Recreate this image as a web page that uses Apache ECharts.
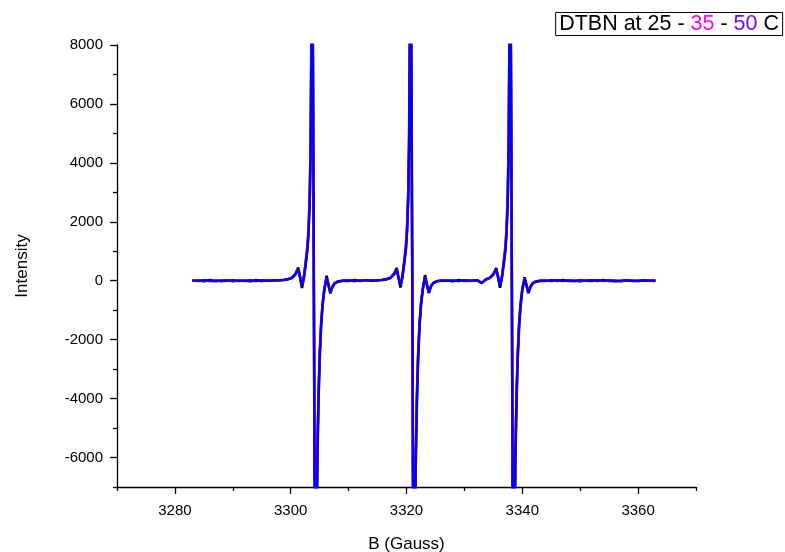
<!DOCTYPE html>
<html>
<head>
<meta charset="utf-8">
<script src="https://cdn.jsdelivr.net/npm/echarts@6/dist/echarts.min.js"></script>
<style>html,body{margin:0;padding:0;background:#fff}#c{width:785px;height:552px}</style>
</head>
<body>
<div id="c"></div>
<script>
// Magnetic field (Gauss) sample positions
const fieldG = [
  3283,3284,3285,3286,3287,3288,3289,3290,3291,3292,3293,3294,3295,3296,3297,
  3298,3298.8,3299.5,3300.2,3300.8,3301.3,3301.6,3301.95,3302.3,3302.6,3302.9,3303.1,3303.3,3303.45,3303.6,3303.7,3303.85,3304,3304.15,3304.3,3304.45,3304.6,3304.8,3305,3305.25,3305.5,3305.8,3306.2,3306.5,3306.85,3307.2,3307.6,3308.2,3309,
  3310,3311,3312,3313,3314,
  3315,3315.8,3316.5,3317.2,3317.8,3318.3,3318.6,3318.95,3319.3,3319.6,3319.9,3320.1,3320.3,3320.45,3320.6,3320.7,3320.85,3321,3321.15,3321.3,3321.45,3321.6,3321.8,3322,3322.25,3322.5,3322.8,3323.2,3323.5,3323.85,3324.2,3324.6,3325.2,3326,
  3327,3328,3329,3330,3331,
  3332.2,3333,3333.7,3334.4,3335,3335.5,3335.8,3336.15,3336.5,3336.8,3337.1,3337.3,3337.5,3337.65,3337.8,3337.9,3338.05,3338.2,3338.35,3338.5,3338.65,3338.8,3339,3339.2,3339.45,3339.7,3340,3340.4,3340.7,3341.05,3341.4,3341.8,3342.4,3343.2,
  3344,3345,3346,3347,3348,3349,3350,3351,3352,3353,3354,3355,3356,3357,3358,3359,3360,3361,3362,3363
];

// 25 C (black)
const t25 = [
  0,10,-15,20,5,-10,15,-20,10,0,-15,20,-5,10,5,
  10,25,45,100,230,450,150,-250,120,580,1080,1750,2900,4800,9000,12000,7500,0,-8500,-12000,-9500,-6200,-4100,-2700,-1550,-850,-320,170,-100,-430,-220,-90,-30,0,
  -10,20,-5,10,15,
  10,25,45,100,230,430,140,-230,120,580,1080,1750,2900,4800,9000,12000,7500,0,-8500,-12000,-9500,-6200,-4100,-2700,-1550,-850,-320,190,-90,-420,-210,-80,-20,5,
  10,-15,20,-5,0,
  10,-80,40,100,230,430,150,-240,120,580,1080,1750,2900,4800,9000,12000,7500,0,-8500,-12000,-9500,-6200,-4100,-2700,-1550,-850,-320,120,-120,-420,-220,-90,-30,0,
  -10,15,-5,20,-10,5,-15,10,15,-5,20,-10,5,-15,10,0,-10,15,5,-5
];

// 35 C (magenta)
const t35 = [
  10,-5,5,-15,15,-20,0,10,5,-10,20,-5,-10,15,0,
  15,35,55,100,220,400,140,-160,200,700,1250,1900,3100,5000,9000,10500,6000,-500,-8500,-10500,-8500,-5600,-3700,-2400,-1400,-750,-260,100,-140,-390,-190,-70,-15,5,
  15,-10,10,-5,5,
  15,35,55,100,220,380,130,-150,200,700,1250,1900,3100,5000,9000,10500,6000,-500,-8500,-10500,-8500,-5600,-3700,-2400,-1400,-750,-260,110,-130,-380,-190,-70,-15,5,
  0,5,-15,10,-10,
  15,-70,50,100,220,390,140,-160,200,700,1250,1900,3100,5000,9000,10500,6000,-500,-8500,-10500,-8500,-5600,-3700,-2400,-1400,-750,-260,80,-150,-380,-190,-70,-15,5,
  15,-5,10,-15,5,20,-10,5,-5,10,-15,15,0,-10,5,10,-15,5,0,10
];

// 50 C (blue)
const t50 = [
  5,-10,15,0,-20,10,-5,20,-15,5,10,-10,15,0,10,
  20,30,50,90,200,380,120,-180,150,600,1100,1700,2800,4500,8500,11000,7000,0,-8000,-11000,-9000,-6000,-4000,-2600,-1500,-800,-300,80,-150,-400,-200,-80,-20,0,
  10,-15,5,20,-5,
  20,30,50,90,200,370,110,-170,150,600,1100,1700,2800,4500,8500,11000,7000,0,-8000,-11000,-9000,-6000,-4000,-2600,-1500,-800,-300,110,-130,-390,-200,-80,-20,0,
  -5,10,-10,15,5,
  20,-75,45,90,200,380,120,-180,150,600,1100,1700,2800,4500,8500,11000,7000,0,-8000,-11000,-9000,-6000,-4000,-2600,-1500,-800,-300,70,-150,-390,-200,-80,-20,0,
  5,-10,15,-5,10,-15,20,0,-10,15,-5,10,-20,5,15,-10,0,10,-5,5
];

const xTicks = [3280, 3300, 3320, 3340, 3360];
const xMinorTicks = [3270, 3290, 3310, 3330, 3350, 3370];
const yTicks = [-6000, -4000, -2000, 0, 2000, 4000, 6000, 8000];
const yMinorTicks = [-7000, -5000, -3000, -1000, 1000, 3000, 5000, 7000];

const pairs = ys => fieldG.map((x, i) => [x, ys[i]]);

const chart = echarts.init(document.getElementById('c'), null, {renderer: 'canvas'});
const FONT = '"Liberation Sans", Arial, sans-serif';
const lineS = {color: '#000', width: 1.3};
function mainAxis(extra) {
  return Object.assign({
    type: 'value',
    axisLine: {show: true, onZero: false, lineStyle: lineS},
    splitLine: {show: false},
    nameTextStyle: {color: '#000', fontFamily: FONT, fontSize: 17}
  }, extra);
}
function minorAxis(extra) {
  return Object.assign({
    type: 'value',
    axisLine: {show: false, onZero: false},
    splitLine: {show: false},
    axisLabel: {show: false}
  }, extra);
}
const plain = v => String(v);
chart.setOption({
  animation: false,
  backgroundColor: '#fff',
  title: {
    text: '{a|DTBN at 25 - }{m|35}{a| - }{p|50}{a| C}',
    right: 2, top: 12,
    padding: [1, 4, 1, 4],
    borderColor: '#000', borderWidth: 1,
    textStyle: {
      fontFamily: FONT, fontSize: 21.5, fontWeight: 'normal',
      rich: {
        a: {color: '#000', fontFamily: FONT, fontSize: 21.5, lineHeight: 22},
        m: {color: '#ff00ff', fontFamily: FONT, fontSize: 21.5, lineHeight: 22},
        p: {color: '#8000ff', fontFamily: FONT, fontSize: 21.5, lineHeight: 22}
      }
    }
  },
  grid: {left: 117, right: 89, top: 45, bottom: 65, containLabel: false, outerBoundsMode: 'none'},
  xAxis: [
    mainAxis({
      position: 'bottom', min: 3270, max: 3370,
      name: 'B (Gauss)', nameLocation: 'middle', nameGap: 49,
      axisTick: {show: true, inside: false, length: 7, lineStyle: lineS, customValues: xTicks},
      axisLabel: {color: '#000', fontFamily: FONT, fontSize: 15, margin: 16, customValues: xTicks, formatter: plain}
    }),
    minorAxis({
      position: 'bottom', min: 3270, max: 3370,
      axisTick: {show: true, inside: false, length: 4, lineStyle: lineS, customValues: xMinorTicks}
    })
  ],
  yAxis: [
    mainAxis({
      position: 'left', min: -7000, max: 8000,
      name: 'Intensity', nameLocation: 'middle', nameGap: 86, nameRotate: 90,
      axisTick: {show: true, inside: false, length: 7, lineStyle: lineS, customValues: yTicks},
      axisLabel: {color: '#000', fontFamily: FONT, fontSize: 15, margin: 14, customValues: yTicks, formatter: plain}
    }),
    minorAxis({
      position: 'left', min: -7000, max: 8000,
      axisTick: {show: true, inside: false, length: 4, lineStyle: lineS, customValues: yMinorTicks}
    })
  ],
  series: [
    {name: '25 C', type: 'line', data: pairs(t25), showSymbol: false, symbol: 'none', clip: true,
     lineStyle: {color: '#000000', width: 2.6}},
    {name: '35 C', type: 'line', data: pairs(t35), showSymbol: false, symbol: 'none', clip: true,
     lineStyle: {color: '#ff0080', width: 2.4}},
    {name: '50 C', type: 'line', data: pairs(t50), showSymbol: false, symbol: 'none', clip: true,
     lineStyle: {color: '#0000ff', width: 2.4}}
  ]
});
</script>
</body>
</html>
